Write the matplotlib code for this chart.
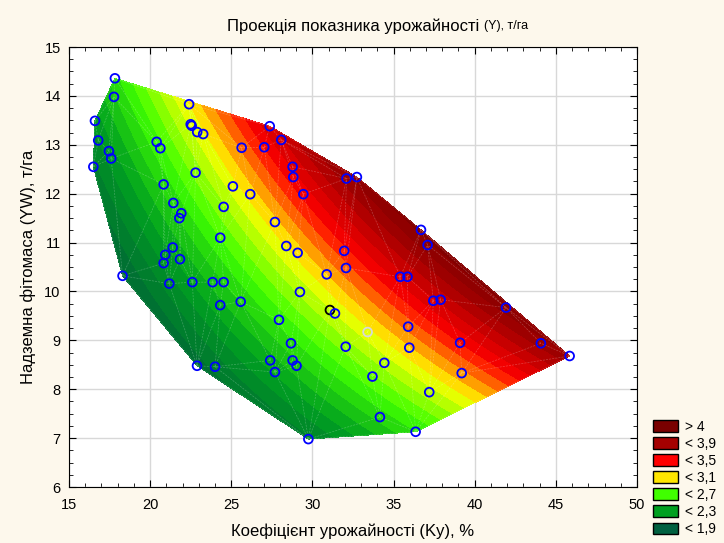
import numpy as np
import matplotlib.pyplot as plt
import matplotlib.tri as mtri
from matplotlib.colors import LinearSegmentedColormap
from matplotlib.patches import Patch

# datos: coeficiente de cosecha (Ky, %) y fitomasa (YW, t/ha)
ky = [17.83, 17.77, 16.6, 16.8, 17.46, 17.6, 16.5, 22.4, 22.5, 22.56,
      22.9, 23.27, 20.4, 20.63, 25.64, 22.8, 20.83, 25.1, 26.17, 21.43,
      24.53, 21.92, 21.8, 24.32, 21.39, 20.93, 20.83, 21.84, 18.3, 21.18,
      22.6, 23.85, 24.53, 24.32, 25.58, 22.89, 24.0, 27.37, 28.08, 27.03,
      28.78, 28.82, 32.1, 32.74, 29.44, 27.69, 28.39, 29.09, 31.96, 32.07,
      30.88, 36.69, 37.1, 35.41, 35.86, 29.23, 31.08, 31.39, 33.4, 27.94,
      28.68, 32.05, 27.4, 28.78, 29.02, 27.69, 34.43, 33.7, 35.9, 35.97,
      37.45, 37.9, 37.2, 34.16, 36.36, 29.75, 41.93, 39.1, 39.2, 44.08, 45.85]
yw = [14.36, 13.98, 13.49, 13.09, 12.87, 12.72, 12.55, 13.83, 13.42, 13.39,
      13.26, 13.22, 13.06, 12.93, 12.94, 12.43, 12.19, 12.15, 11.99, 11.81,
      11.73, 11.6, 11.5, 11.1, 10.9, 10.75, 10.58, 10.66, 10.32, 10.16,
      10.19, 10.19, 10.19, 9.72, 9.79, 8.48, 8.46, 13.38, 13.1, 12.95,
      12.55, 12.34, 12.31, 12.34, 11.99, 11.42, 10.93, 10.79, 10.83, 10.48,
      10.35, 11.26, 10.95, 10.3, 10.3, 9.99, 9.62, 9.55, 9.17, 9.42,
      8.94, 8.87, 8.59, 8.59, 8.48, 8.35, 8.54, 8.26, 9.28, 8.85,
      9.81, 9.83, 7.94, 7.43, 7.13, 6.98, 9.67, 8.95, 8.33, 8.94, 8.68]

legend_labels = ["> 4", "< 3,9", "< 3,5", "< 3,1", "< 2,7", "< 2,3", "< 1,9"]
legend_colors = ["#7a0000", "#a50000", "#ff0000", "#ffe600", "#40ff00", "#00a020", "#006040"]

ky = np.array(ky)
yw = np.array(yw)
y_cosecha = ky * yw / 100.0  # rendimiento Y = Ky * YW

# mapa de color tipo Statistica
cmap = LinearSegmentedColormap.from_list("stat", [
    (0.0, "#005e3a"), (0.2, "#00a020"), (0.36, "#40ff00"),
    (0.52, "#ffff00"), (0.68, "#ff0000"), (0.84, "#a50000"), (1.0, "#700000")])

plt.rcParams['font.family'] = ['Liberation Sans', 'DejaVu Sans']
fig = plt.figure(figsize=(7.24, 5.43), dpi=100, facecolor="#fdf8ec")
ax = fig.add_axes([0.0953, 0.1031, 0.7845, 0.8103])

tri = mtri.Triangulation(ky, yw)
refiner = mtri.UniformTriRefiner(tri)
tri_f, z_f = refiner.refine_field(y_cosecha, subdiv=3)
niveles = np.arange(1.8, 4.31, 0.1)
ax.tricontourf(tri_f, z_f, levels=niveles, cmap=cmap, extend="both", zorder=2)
ax.triplot(tri, color="white", lw=0.5, alpha=0.25, ls=(0, (3, 1.5)), zorder=3)

bordes = ["#0000ff"] * len(ky)
bordes[56] = "black"
bordes[58] = "#d8d8d8"
ax.scatter(ky, yw, s=40, facecolors="none", edgecolors=bordes, linewidths=1.3, zorder=4)

ax.set_xlim(15, 50)
ax.set_ylim(6, 15)
ax.set_xticks(np.arange(15, 51, 5))
ax.set_yticks(np.arange(6, 16, 1))
ax.set_xticks(np.arange(15, 51, 1), minor=True)
ax.set_yticks(np.arange(6, 15.01, 0.25), minor=True)
ax.tick_params(which="both", direction="in", top=True, right=True, labelsize=10.5)
ax.tick_params(which="major", length=5)
ax.tick_params(which="minor", length=3)
ax.tick_params(axis="x", pad=8)
ax.tick_params(axis="y", pad=6)
ax.grid(True, color="#d8d8d8", lw=1, zorder=0)
ax.set_axisbelow(True)

ax.set_xlabel("Коефіцієнт урожайності (Ky), %", fontsize=12, labelpad=8)
ax.set_ylabel("Надземна фітомаса (YW), т/га", fontsize=12, labelpad=6)
fig.text(0.668, 0.952, "Проекція показника урожайності ", fontsize=12, ha="right", va="center")
fig.text(0.668, 0.952, "(Y), т/га", fontsize=9, ha="left", va="center")

handles = [Patch(facecolor=c, edgecolor="black", lw=1) for c in legend_colors]
fig.legend(handles, legend_labels, loc="lower left", bbox_to_anchor=(0.893, 0.0),
           frameon=False, fontsize=10, handlelength=1.8, handleheight=0.9,
           labelspacing=0.22, handletextpad=0.5, borderaxespad=0.1)

fig.savefig("out.png", dpi=100, facecolor=fig.get_facecolor())
